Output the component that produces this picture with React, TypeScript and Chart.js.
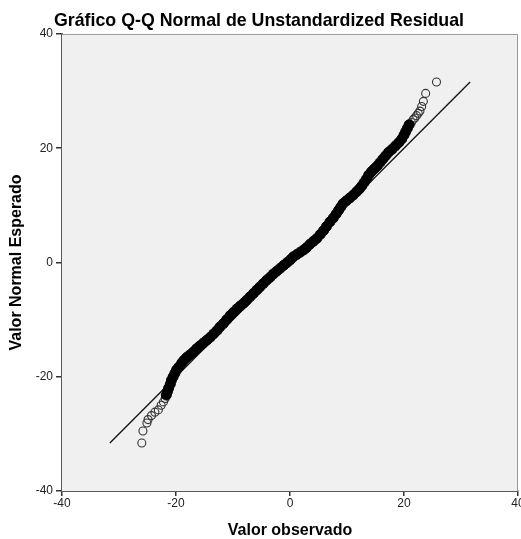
import React, { useEffect, useRef } from "react";
import { Chart, registerables } from "chart.js";

Chart.register(...registerables);

const titleText = "Gráfico Q-Q Normal de Unstandardized Residual";
const xTitle = "Valor observado";
const yTitle = "Valor Normal Esperado";
const tickValues = [-40, -20, 0, 20, 40];

// dense core of the Q-Q band (observed, expected)
const coreObserved = [
  -21.7, -21.5, -21.3, -21.0, -20.8, -20.5, -20.2, -19.9, -19.5, -19.0, -18.6, -18.1, -17.6, -17.0,
  -16.4, -15.8, -15.2, -14.6, -14.0, -13.4, -12.8, -12.3, -11.7, -11.1, -10.5, -9.9, -9.3, -8.7,
  -8.1, -7.6, -7.0, -6.4, -5.8, -5.3, -4.7, -4.1, -3.5, -2.9, -2.3, -1.7, -1.1, -0.5, 0.1, 0.6,
  1.2, 1.8, 2.4, 2.9, 3.5, 4.1, 4.7, 5.3, 5.9, 6.4, 7.0, 7.6, 8.1, 8.5, 8.9, 9.3, 9.9, 10.5, 11.1,
  11.7, 12.2, 12.6, 13.0, 13.4, 13.8, 14.3, 14.8, 15.3, 15.8, 16.3, 16.8, 17.3, 17.9, 18.5, 19.1,
  19.6, 20.0, 20.3, 20.6, 20.9,
];
const coreExpected = [
  -23.2, -22.6, -22.0, -21.3, -20.6, -20.0, -19.4, -18.8, -18.3, -17.6, -17.1, -16.6, -16.2, -15.7,
  -15.1, -14.6, -14.1, -13.6, -13.1, -12.5, -11.9, -11.3, -10.7, -10.0, -9.3, -8.7, -8.1, -7.6,
  -7.1, -6.6, -6.0, -5.4, -4.8, -4.3, -3.7, -3.1, -2.6, -2.0, -1.5, -1.0, -0.5, 0.0, 0.5, 1.0,
  1.4, 1.8, 2.2, 2.6, 3.2, 3.7, 4.2, 4.9, 5.6, 6.3, 7.1, 7.8, 8.5, 9.1, 9.7, 10.3, 10.8, 11.3, 11.8,
  12.4, 12.9, 13.4, 14.0, 14.6, 15.3, 15.9, 16.4, 16.9, 17.5, 18.1, 18.7, 19.3, 19.8, 20.4, 21.0,
  21.6, 22.3, 22.9, 23.5, 24.1,
];

// separate circles in the tails
const tailObserved = [
  -26.0, -25.8, -25.1, -24.9, -24.3, -23.7, -23.1, -22.6, -22.2, -21.9,
  21.3, 21.6, 21.9, 22.2, 22.5, 22.8, 23.1, 23.4, 23.8, 25.7,
];
const tailExpected = [
  -31.6, -29.5, -28.1, -27.5, -26.8, -26.2, -25.8, -25.0, -24.4, -23.8,
  24.5, 25.0, 25.3, 25.7, 26.1, 26.5, 27.3, 28.2, 29.6, 31.6,
];

const refLine = [-31.6, 31.6];

const FONT = "'Liberation Sans', Arial, sans-serif";

export default function App() {
  const ref = useRef<HTMLCanvasElement | null>(null);

  useEffect(() => {
    document.body.style.overflow = "hidden";
    if (!ref.current) return;
    const bgPlugin = {
      id: "plotBg",
      beforeDatasetsDraw(chart: any) {
        const { ctx, chartArea: a } = chart;
        ctx.save();
        ctx.fillStyle = "#f0f0f0";
        ctx.fillRect(a.left, a.top, a.right - a.left, a.bottom - a.top);
        ctx.restore();
      },
      afterDraw(chart: any) {
        const { ctx, chartArea: a } = chart;
        ctx.save();
        ctx.strokeStyle = "#9a9a9a";
        ctx.lineWidth = 1;
        ctx.beginPath();
        ctx.moveTo(a.left, a.top + 0.5);
        ctx.lineTo(a.right - 0.5, a.top + 0.5);
        ctx.lineTo(a.right - 0.5, a.bottom);
        ctx.stroke();
        ctx.restore();
      },
    };

    const chart = new Chart(ref.current, {
      type: "scatter",
      data: {
        datasets: [
          {
            label: "core",
            data: coreObserved.map((x, i) => ({ x, y: coreExpected[i] })),
            pointRadius: 5,
            pointBackgroundColor: "#000",
            pointBorderColor: "#000",
            pointBorderWidth: 1,
            order: 1,
          },
          {
            label: "tails",
            data: tailObserved.map((x, i) => ({ x, y: tailExpected[i] })),
            pointRadius: 4,
            pointBackgroundColor: "rgba(0,0,0,0)",
            pointBorderColor: "#333",
            pointBorderWidth: 1.1,
            order: 2,
          },
          {
            type: "line",
            label: "ref",
            data: refLine.map((v) => ({ x: v, y: v })),
            borderColor: "#111",
            borderWidth: 1.3,
            pointRadius: 0,
            fill: false,
            order: 3,
          } as any,
        ],
      },
      options: {
        animation: false,
        responsive: false,
        devicePixelRatio: 1,
        layout: { padding: { left: 0, right: 8, top: 0, bottom: 0 } },
        plugins: {
          legend: { display: false },
          tooltip: { enabled: false },
          title: {
            display: true,
            text: titleText,
            color: "#000",
            font: { family: FONT, size: 17.8, weight: "bold" },
            padding: { top: 10, bottom: 2.6 },
          },
        },
        scales: {
          x: {
            type: "linear",
            min: -40,
            max: 40,
            afterBuildTicks: (s: any) => {
              s.ticks = tickValues.map((v) => ({ value: v }));
            },
            afterFit: (s: any) => {
              s.height = 48;
            },
            grid: { display: true, drawOnChartArea: false, drawTicks: true, tickLength: 5, color: "#333", lineWidth: 1.5 },
            border: { display: true, color: "#5a5a5a", width: 2 },
            ticks: { color: "#222", font: { family: FONT, size: 12 }, padding: 0, maxRotation: 0, autoSkip: false },
            title: {
              display: true,
              text: xTitle,
              color: "#000",
              font: { family: FONT, size: 16, weight: "bold", lineHeight: 1.1 },
              padding: { top: 0, bottom: 0 },
            },
          },
          y: {
            type: "linear",
            min: -40,
            max: 40,
            afterBuildTicks: (s: any) => {
              s.ticks = tickValues.map((v) => ({ value: v }));
            },
            afterFit: (s: any) => {
              s.width = 62;
            },
            grid: { display: true, drawOnChartArea: false, drawTicks: true, tickLength: 6, color: "#333", lineWidth: 1.5 },
            border: { display: true, color: "#5a5a5a", width: 2 },
            ticks: { color: "#222", font: { family: FONT, size: 12 }, padding: 3, autoSkip: false },
            title: {
              display: true,
              text: yTitle,
              color: "#000",
              font: { family: FONT, size: 16, weight: "bold", lineHeight: 1.2 },
              padding: { top: 7, bottom: 0 },
            },
          },
        },
      } as any,
      plugins: [bgPlugin],
    });
    return () => chart.destroy();
  }, []);

  return (
    <canvas
      ref={ref}
      width={526}
      height={539}
      style={{ position: "fixed", left: 0, top: 0, width: 526, height: 539, display: "block" }}
    />
  );
}
